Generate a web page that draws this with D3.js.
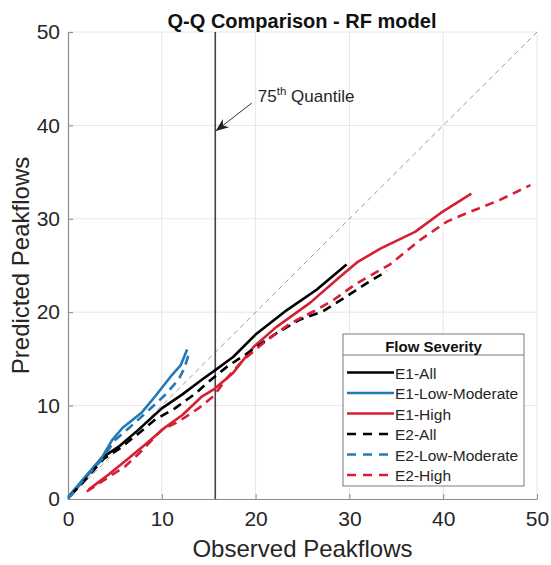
<!DOCTYPE html>
<html>
<head>
<meta charset="utf-8">
<script src="https://cdn.jsdelivr.net/npm/d3@7"></script>
<style>
  html, body { margin: 0; padding: 0; background: #fff; }
  svg { display: block; font-family: "Liberation Sans", Arial, Helvetica, sans-serif; }
</style>
</head>
<body>
<svg id="chart" width="551" height="565"></svg>
<script>
// Q-Q quantile pairs [observed, predicted] for each experiment / flow class
const e1All = [[0.2,0.3],[1.8,2.2],[3.6,4.4],[5.4,5.6],[7.5,7.4],[10.0,9.7],[12.2,11.2],[14.3,12.8],[15.7,13.8],[17.6,15.2],[20.1,17.7],[23.3,20.2],[26.5,22.4],[29.7,25.1]];
const e1LowMod = [[0,0.2],[1.85,2.4],[3.6,4.4],[4.7,6.3],[5.8,7.6],[7.9,9.3],[9.3,11.0],[11.1,13.3],[12.0,14.3],[12.7,16.0]];
const e1High = [[2.2,1.0],[4.3,2.6],[6.5,4.4],[8.2,5.8],[10.4,7.7],[12.2,9.0],[14.3,11.0],[15.5,11.7],[17.6,13.5],[19.8,16.3],[22.2,18.4],[25.8,21.0],[29.0,23.8],[30.9,25.4],[33.3,26.8],[37.0,28.6],[39.7,30.6],[43.0,32.7]];
const e2All = [[0.3,0.4],[1.8,2.0],[3.8,4.3],[5.5,5.4],[7.5,7.0],[9.3,8.5],[11.4,9.7],[13.6,11.3],[14.8,12.4],[17.0,14.2],[19.1,15.6],[22.0,17.6],[24.7,19.2],[27.2,20.1],[29.7,21.7],[32.0,23.2],[34.0,24.4]];
const e2LowMod = [[0,0],[1.7,2.1],[3.5,4.1],[5.0,6.3],[6.5,7.6],[8.6,9.5],[10.2,11.0],[11.8,12.8],[12.4,14.0],[12.9,15.6]];
const e2High = [[2.0,0.8],[3.8,2.0],[6.1,3.5],[7.9,5.2],[10.0,7.4],[11.8,8.3],[13.9,9.7],[15.5,11.0],[17.0,13.0],[18.7,14.9],[21.2,17.0],[23.7,18.8],[26.2,20.1],[28.3,21.3],[30.8,23.1],[34.3,25.1],[37.5,27.7],[40.4,29.7],[42.5,30.6],[46.0,32.0],[49.3,33.6]];

const seriesNames = ["E1-All","E1-Low-Moderate","E1-High","E2-All","E2-Low-Moderate","E2-High"];
const seriesData = [e1All, e1LowMod, e1High, e2All, e2LowMod, e2High];
const seriesColors = ["#000000","#2379b5","#d61f34","#000000","#2379b5","#d61f34"];
const seriesDashed = [false,false,false,true,true,true];

const axisTicks = [0,10,20,30,40,50];
const quantile75 = 15.7;
const arrowTail = [19.6, 42.4];
const arrowHead = [15.75, 39.4];

const svg = d3.select("#chart");
const margin = {left: 68, right: 14, top: 32, bottom: 66};
const W = 551, H = 565;

const x = d3.scaleLinear().domain([0, 50]).range([margin.left, W - margin.right]);
const y = d3.scaleLinear().domain([0, 50]).range([H - margin.bottom, margin.top]);

// grid
const grid = svg.append("g").attr("stroke", "#e6e6e6").attr("stroke-width", 1);
grid.selectAll(".gx").data(axisTicks.slice(1)).join("line")
  .attr("x1", d => x(d)).attr("x2", d => x(d)).attr("y1", y(0)).attr("y2", y(50));
grid.selectAll(".gy").data(axisTicks.slice(1)).join("line")
  .attr("y1", d => y(d)).attr("y2", d => y(d)).attr("x1", x(0)).attr("x2", x(50));

// axes
const xAxis = svg.append("g").attr("transform", `translate(0,${y(0)})`)
  .call(d3.axisBottom(x).tickValues(axisTicks).tickSizeInner(-5).tickSizeOuter(0).tickPadding(12));
const yAxis = svg.append("g").attr("transform", `translate(${x(0)},0)`)
  .call(d3.axisLeft(y).tickValues(axisTicks).tickSizeInner(-5).tickSizeOuter(0).tickPadding(8));
[xAxis, yAxis].forEach(a => {
  a.select(".domain").attr("stroke", "#8c8c8c").attr("stroke-width", 1.2);
  a.selectAll(".tick line").attr("stroke", "#8c8c8c");
  a.selectAll(".tick text").attr("fill", "#262626").attr("font-size", 21)
    .attr("font-family", "'Liberation Sans', Arial, sans-serif");
});

// 1:1 reference line
svg.append("line")
  .attr("x1", x(0)).attr("y1", y(0)).attr("x2", x(50)).attr("y2", y(50))
  .attr("stroke", "#9a9a9a").attr("stroke-width", 1).attr("stroke-dasharray", "5,4");

// 75th quantile marker
svg.append("line")
  .attr("x1", x(quantile75)).attr("x2", x(quantile75)).attr("y1", y(0)).attr("y2", y(50))
  .attr("stroke", "#444").attr("stroke-width", 1.6);

// series
const line = d3.line().x(d => x(d[0])).y(d => y(d[1]));
seriesData.forEach((data, i) => {
  svg.append("path").datum(data)
    .attr("d", line)
    .attr("fill", "none")
    .attr("stroke", seriesColors[i])
    .attr("stroke-width", 2.6)
    .attr("stroke-linejoin", "round")
    .attr("stroke-dasharray", seriesDashed[i] ? "9,6" : null);
});

// arrow annotation
svg.append("defs").append("marker")
  .attr("id", "arrow").attr("viewBox", "0 0 10 10").attr("refX", 10).attr("refY", 5)
  .attr("markerWidth", 13).attr("markerHeight", 13).attr("markerUnits", "userSpaceOnUse")
  .attr("orient", "auto")
  .append("path").attr("d", "M0,1 L10,5 L0,9 L3,5 Z").attr("fill", "#222");
svg.append("line")
  .attr("x1", x(arrowTail[0])).attr("y1", y(arrowTail[1]))
  .attr("x2", x(arrowHead[0])).attr("y2", y(arrowHead[1]))
  .attr("stroke", "#333").attr("stroke-width", 1).attr("marker-end", "url(#arrow)");
const ann = svg.append("text").attr("x", x(arrowTail[0]) + 6).attr("y", 102)
  .attr("font-size", 17).attr("fill", "#262626");
ann.append("tspan").text("75");
ann.append("tspan").attr("dy", -7).attr("font-size", 11.5).text("th");
ann.append("tspan").attr("dy", 7).text(" Quantile");

// title and axis labels
svg.append("text").attr("x", 302).attr("y", 28).attr("text-anchor", "middle")
  .attr("font-size", 20).attr("font-weight", "bold").attr("fill", "#111")
  .text("Q-Q Comparison - RF model");
svg.append("text").attr("x", (x(0) + x(50)) / 2).attr("y", 557).attr("text-anchor", "middle")
  .attr("font-size", 24).attr("fill", "#262626").text("Observed Peakflows");
svg.append("text").attr("transform", `translate(29,${(y(0) + y(50)) / 2}) rotate(-90)`)
  .attr("text-anchor", "middle").attr("font-size", 24).attr("fill", "#262626")
  .text("Predicted Peakflows");

// legend
const lg = svg.append("g").attr("transform", "translate(343,334)");
const lgW = 181, lgH = 152;
lg.append("rect").attr("width", lgW).attr("height", lgH)
  .attr("fill", "#fff").attr("stroke", "#7a7a7a").attr("stroke-width", 1);
lg.append("line").attr("x1", 0).attr("x2", lgW).attr("y1", 21).attr("y2", 21)
  .attr("stroke", "#7a7a7a").attr("stroke-width", 1);
lg.append("text").attr("x", lgW / 2).attr("y", 18).attr("text-anchor", "middle")
  .attr("font-size", 15).attr("font-weight", "bold").attr("fill", "#111").text("Flow Severity");
const items = lg.selectAll(".item").data(seriesNames).join("g")
  .attr("transform", (d, i) => `translate(0,${38.5 + i * 20.5})`);
items.append("line").attr("x1", 4).attr("x2", 51).attr("y1", 0).attr("y2", 0)
  .attr("stroke", (d, i) => seriesColors[i]).attr("stroke-width", 2.6)
  .attr("stroke-dasharray", (d, i) => seriesDashed[i] ? "9,7" : null);
items.append("text").attr("x", 52).attr("y", 6).attr("font-size", 15.5).attr("fill", "#262626")
  .text(d => d);
</script>
</body>
</html>
